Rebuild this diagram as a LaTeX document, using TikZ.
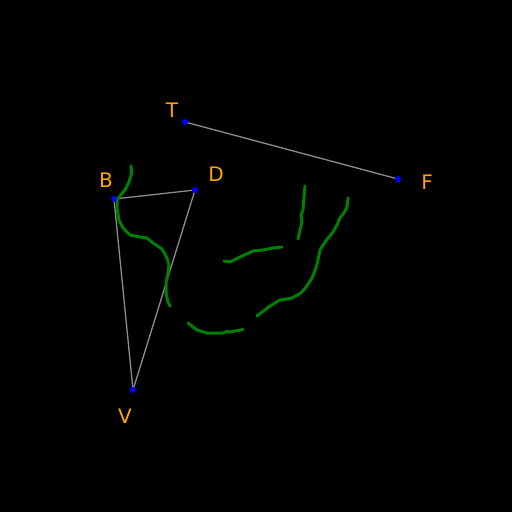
\documentclass[tikz,border=0pt]{standalone}
\usepackage{fontspec}
\setmainfont{DejaVu Sans}
\begin{document}
\begin{tikzpicture}[x=1pt,y=-1pt,
  edge/.style={draw={rgb,255:red,140;green,140;blue,140}, line width=1.3pt},
  stroke/.style={draw={rgb,255:red,0;green,128;blue,0}, line width=3pt, line cap=round, line join=round},
  pt/.style={circle, fill=blue, inner sep=0pt, minimum size=6pt},
  lbl/.style={text={rgb,255:red,255;green,165;blue,0}, font=\fontsize{20}{24}\selectfont, inner sep=0pt}]
\fill[black] (0,0) rectangle (512,512);
\useasboundingbox (0,0) rectangle (512,512);
\coordinate (T) at (185,122);
\coordinate (F) at (398,179);
\coordinate (B) at (114,199);
\coordinate (D) at (195,190);
\coordinate (V) at (133,390);
\draw[edge] (T) -- (F);
\draw[edge] (B) -- (D);
\draw[edge] (B) -- (V);
\draw[edge] (D) -- (V);
% green strokes
\draw[stroke] (131,166) -- (131.7,173) -- (129,182) -- (125,190) -- (120,196) -- (117,200) -- (117,208) -- (119,220) -- (123,228) -- (130,235) -- (140,237) -- (147,238) -- (153,243) -- (162,249) -- (167,258) -- (169,265) -- (168,273) -- (166,283) -- (166,293) -- (168,302) -- (170,306);
\draw[stroke] (188,323) -- (197,330) -- (207,333) -- (223,333) -- (227,331.5) -- (230,332) -- (243,329.5);
\draw[stroke] (224,261) -- (230,262) -- (240,257) -- (253,251) -- (263,250) -- (273,248) -- (282,247);
\draw[stroke] (305,186) -- (304,197) -- (303,210) -- (301,215) -- (302,222) -- (300,230) -- (298,239);
\draw[stroke] (348,198) -- (347,207) -- (344,213) -- (340,218) -- (337,225) -- (333,232) -- (325,242) -- (320,250) -- (318,260) -- (316,268) -- (312,278) -- (307,286) -- (301,293) -- (292,298) -- (287,299) -- (280,300) -- (270,306) -- (257,316);
\node[pt] (nT) at (T) {};
\node[pt] (nF) at (F) {};
\node[pt] (nB) at (B) {};
\node[pt] (nD) at (D) {};
\node[pt] (nV) at (V) {};
\node[lbl] (lT) at (172,110) {T};
\node[lbl] (lF) at (427,182) {F};
\node[lbl] (lB) at (106,180) {B};
\node[lbl] (lD) at (216,174) {D};
\node[lbl] (lV) at (125,416) {V};
\end{tikzpicture}
\end{document}
